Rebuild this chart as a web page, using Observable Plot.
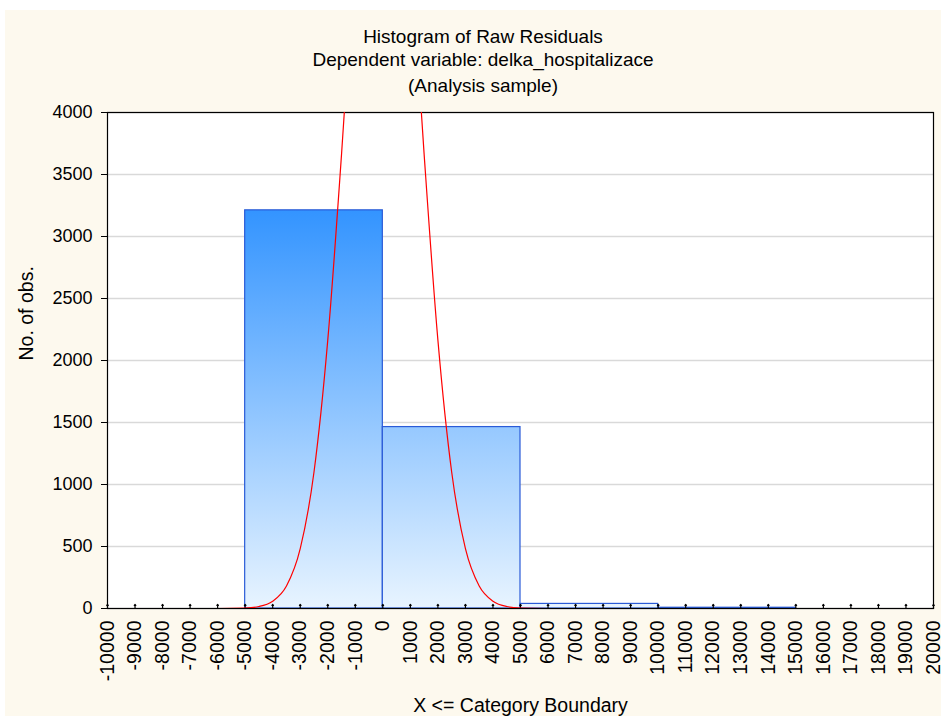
<!DOCTYPE html>
<html>
<head>
<meta charset="utf-8">
<script src="https://cdn.jsdelivr.net/npm/d3@7"></script>
<script src="https://cdn.jsdelivr.net/npm/@observablehq/plot@0.6"></script>
<style>
  html, body { margin: 0; padding: 0; background: #ffffff; }
  #panel { position: absolute; left: 5px; top: 10px; width: 936px; height: 706px; background: #fdf9ee; font-family: "Liberation Sans", Arial, sans-serif; color: #000; }
  .t { position: absolute; left: 478px; transform: translateX(-50%); white-space: nowrap; font-size: 19px; line-height: 24px; }
  #chart { position: absolute; left: 0; top: 90px; }
</style>
</head>
<body>
<div id="panel">
  <div class="t" style="top:15px">Histogram of Raw Residuals</div>
  <div class="t" style="top:38px">Dependent variable: delka_hospitalizace</div>
  <div class="t" style="top:64px">(Analysis sample)</div>
  <div id="chart"></div>
</div>
<script>
// Histogram bins (category boundaries) and counts
const binStart = [-10000, -5000, 0, 5000, 10000, 15000];
const binEnd   = [-5000, 0, 5000, 10000, 15000, 20000];
const counts   = [0, 3211, 1463, 37, 6, 0];

// Expected-normal curve (x, no. of obs.)
const curveX = [-10000, -6000, -5000, -4500, -4000, -3500, -3000, -2500, -2000, -1500, -1000, -500, 0, 500, 1000, 1500, 2000, 2500, 3000, 3500, 4000, 4500, 5000, 6000, 10000, 20000];
const curveY = [0, 0, 4, 16, 59, 181, 482, 1101, 2164, 3662, 5331, 6679, 7200, 6679, 5331, 3662, 2164, 1101, 482, 181, 59, 16, 4, 0, 0, 0];

// Axis ticks
const xTicks = d3.range(-10000, 20001, 1000);
const yTicks = [0, 500, 1000, 1500, 2000, 2500, 3000, 3500, 4000];

const bins = binStart.map((s, i) => ({x1: s, x2: binEnd[i], count: counts[i]})).filter(d => d.count > 0);
const curve = curveX.map((x, i) => ({x, y: curveY[i]}));

const chart = Plot.plot({
  width: 936,
  height: 616,
  marginLeft: 102,
  marginRight: 8,
  marginTop: 12,
  marginBottom: 108,
  style: {fontFamily: "'Liberation Sans', Arial, sans-serif", fontSize: "18px", background: "transparent", color: "#000"},
  x: {domain: [-10000, 20000]},
  y: {domain: [0, 4000]},
  marks: [
    Plot.frame({fill: "#ffffff"}),
    Plot.gridY(yTicks, {stroke: "#d9d9d9", strokeOpacity: 1, strokeWidth: 1.5}),
    Plot.rectY(bins, {x1: "x1", x2: "x2", y: "count", fill: "url(#barGrad)", stroke: "#2a5bd7", strokeWidth: 1.2}),
    Plot.axisY(yTicks, {tickSize: 6, tickPadding: 9, fontSize: 18, label: null, tickFormat: d => String(d)}),
    Plot.text(["No. of obs."], {frameAnchor: "left", rotate: -90, dx: -81, fontSize: 19.5}),
    Plot.axisX(xTicks, {tickSize: 0, tickPadding: 12, tickRotate: -90, fontSize: 19.5, tickFormat: d => String(d), label: "X <= Category Boundary", labelAnchor: "center", labelArrow: "none", labelOffset: 103}),
    Plot.vector(xTicks, {x: d => d, y: 0, length: 4, anchor: "start", stroke: "#000", strokeWidth: 1.2}),
    Plot.frame({stroke: "#000", strokeWidth: 1.2}),
    Plot.line(curve, {x: "x", y: "y", stroke: "#ff0000", strokeWidth: 1.2, curve: "monotone-x", clip: true})
  ]
});

// vertical gradient anchored to the y scale (top of tallest bar -> baseline)
const ys = chart.scale("y");
const defs = d3.select(chart).insert("defs", ":first-child");
const g = defs.append("linearGradient").attr("id", "barGrad")
  .attr("gradientUnits", "userSpaceOnUse")
  .attr("x1", 0).attr("x2", 0)
  .attr("y1", ys.apply(d3.max(counts))).attr("y2", ys.apply(0));
g.append("stop").attr("offset", "0%").attr("stop-color", "#3394ff");
g.append("stop").attr("offset", "100%").attr("stop-color", "#e8f4ff");

document.getElementById("chart").appendChild(chart);
</script>
</body>
</html>
